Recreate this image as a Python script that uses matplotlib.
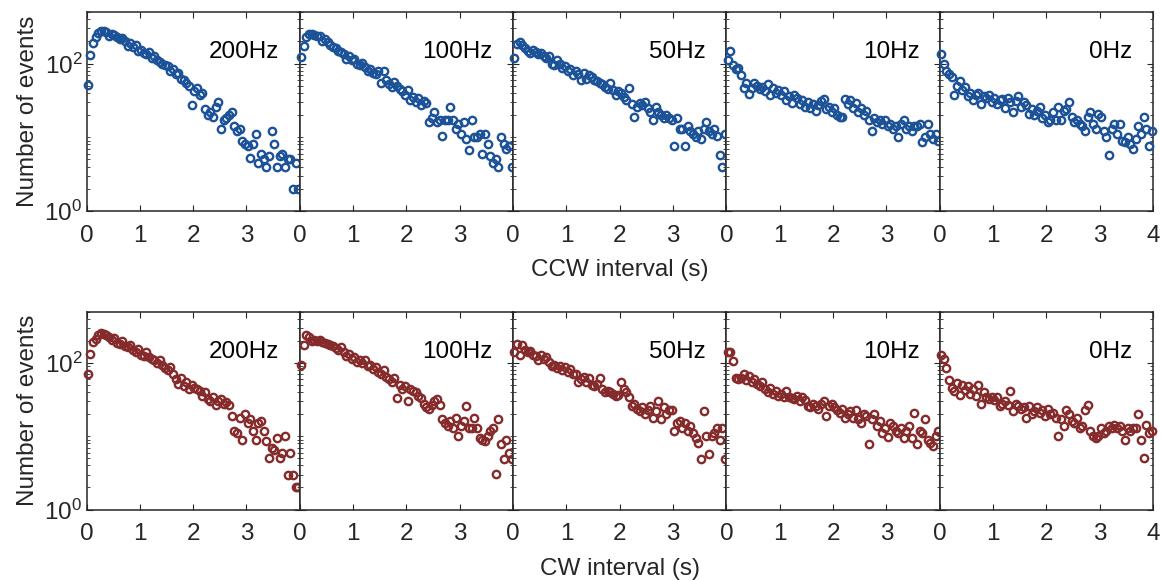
import numpy as np
import matplotlib
matplotlib.use("Agg")
import matplotlib.pyplot as plt
from matplotlib.ticker import FixedLocator, NullFormatter

plt.rcParams['font.family'] = ['Liberation Sans', 'DejaVu Sans']
plt.rcParams['mathtext.fontset'] = 'custom'
plt.rcParams['mathtext.rm'] = 'Liberation Sans'
plt.rcParams['mathtext.default'] = 'regular'

# ---------------- data ----------------
bin_width = 0.05
n_bins = 80
panel_labels = ["200Hz", "100Hz", "50Hz", "10Hz", "0Hz"]
x_tick_values = [0, 1, 2, 3, 4]
y_tick_labels = ["$10^0$", "$10^2$"]
row_xlabels = ["CCW interval (s)", "CW interval (s)"]
ylabel_text = "Number of events"

ccw_200 = [51, 130, 190, 230, 260, 275, 280, 270, 240, 250,
           245, 230, 215, 225, 200, 175, 190, 170, 180, 150,
           155, 140, 135, 145, 120, 125, 110, 105, 100, 95,
           92, 80, 85, 72, 75, 62, 60, 55, 50, 27,
           42, 46, 38, 40, 24, 20, 22, 19, 26, 30,
           13, 17, 18, 20, 22, 14, 12, 13, 9, 8,
           7.5, 5.2, 8, 11, 4.5, 6, 5, 4, 5.5, 12,
           8, 4, 5.5, 6, 4, 5, 5, 2, 4.5, 2]
ccw_100 = [123, 175, 230, 255, 250, 245, 240, 235, 200, 215,
           195, 180, 170, 160, 150, 145, 135, 115, 125, 110,
           115, 100, 95, 102, 90, 80, 85, 75, 72, 78,
           55, 78, 60, 52, 48, 56, 50, 45, 42, 38,
           44, 32, 35, 30, 34, 27, 31, 29, 16, 18,
           22, 16, 17, 10.5, 17, 17, 26, 17, 13, 15,
           11, 16, 9.5, 6.7, 17, 10, 10, 11, 6, 11,
           8, 5.5, 4.5, 5, 4, 10, 8, 7, 7.5, 3.9]
ccw_50 = [120, 185, 195, 180, 165, 150, 140, 155, 145, 135,
          140, 125, 118, 125, 100, 95, 110, 100, 88, 92,
          80, 85, 70, 78, 72, 60, 75, 62, 70, 66,
          60, 58, 55, 52, 48, 45, 55, 44, 38, 42,
          40, 35, 32, 46, 28, 19, 26, 29, 27, 30,
          25, 22, 17, 26, 22, 20, 18, 20, 18, 17,
          7.7, 18, 13, 13, 7.7, 14, 12, 11, 10, 12,
          9.5, 13, 16, 12, 11, 13, 10.5, 5.8, 3.9, 11]
ccw_10 = [110, 150, 95, 85, 88, 70, 46, 55, 39, 47,
          55, 50, 45, 48, 42, 52, 38, 46, 40, 44,
          38, 42, 32, 36, 29, 38, 34, 28, 32, 26,
          30, 25, 28, 23, 27, 31, 33, 24, 26, 22,
          25, 20, 19, 19, 33, 28, 32, 25, 29, 22,
          25, 20, 23, 17, 12, 18, 16, 17, 15, 17,
          14, 15, 13, 14, 10, 15, 17, 13, 14, 12,
          14, 14, 15, 8.6, 10, 15, 11, 9.5, 11, 9]
ccw_0 = [135, 100, 80, 72, 65, 38, 50, 58, 44, 48,
         36, 40, 32, 38, 40, 28, 36, 34, 38, 30,
         34, 28, 32, 33, 25, 34, 30, 22, 31, 36,
         26, 30, 27, 21, 24, 20, 23, 26, 18, 20,
         16, 17, 22, 17, 26, 17, 23, 24, 30, 19,
         16, 17, 15, 14, 12, 19, 22, 15, 13, 21,
         19, 12, 10, 5.8, 13, 15, 11, 15, 9, 8.5,
         10, 8, 7, 9.5, 14, 11, 19, 13, 7.7, 12]

cw_200 = [70, 135, 195, 215, 240, 255, 250, 245, 230, 210,
          220, 190, 180, 200, 170, 165, 175, 150, 140, 155,
          130, 125, 140, 120, 115, 110, 100, 110, 95, 85,
          80, 88, 72, 60, 52, 62, 48, 56, 44, 50,
          46, 45, 42, 36, 40, 32, 30, 34, 27, 30,
          32, 28, 29, 27, 19, 12, 11, 18, 9, 20,
          15, 17, 12, 9, 15, 16, 12, 8.5, 5, 7,
          6.5, 9.5, 5, 6, 10, 3, 6, 3, 2, 2]
cw_100 = [94, 175, 240, 230, 200, 205, 200, 210, 195, 190,
          180, 175, 170, 160, 150, 165, 140, 125, 135, 115,
          120, 105, 110, 100, 112, 90, 95, 82, 88, 75,
          70, 80, 65, 60, 55, 62, 33, 50, 44, 48,
          30, 45, 42, 40, 36, 33, 28, 25, 24, 27,
          30, 32, 27, 17, 15, 14, 16, 13, 18, 10,
          14, 16, 26, 13, 13, 18, 13, 9.5, 9, 8.5,
          10, 12, 13, 3.1, 17, 7.8, 4.9, 9, 6, 4.9]
cw_50 = [140, 185, 130, 175, 150, 140, 145, 130, 125, 110,
         130, 115, 120, 105, 90, 95, 85, 90, 80, 88,
         75, 84, 70, 72, 56, 60, 64, 55, 62, 50,
         48, 52, 62, 45, 40, 42, 40, 38, 36, 37,
         56, 44, 40, 34, 26, 28, 24, 22, 25, 20,
         23, 26, 18, 22, 30, 17, 25, 20, 23, 23,
         12, 15, 16, 13, 15, 12, 14, 11, 9.6, 8,
         4.9, 22, 10, 5.7, 10, 11, 13, 9, 13, 4.9]
cw_10 = [142, 140, 107, 62, 60, 62, 70, 58, 66, 56,
         60, 52, 48, 55, 44, 40, 46, 38, 42, 36,
         38, 34, 42, 35, 33, 32, 36, 30, 34, 31,
         26, 25, 28, 26, 24, 28, 30, 19, 26, 28,
         25, 23, 21, 24, 18, 20, 22, 18, 23, 17,
         15, 20, 19, 7.8, 17, 20, 14, 16, 11, 13,
         9.8, 15, 14, 12, 11, 13, 9.5, 12, 14, 9.5,
         21, 7.8, 12, 11, 17, 9, 8, 7.4, 10, 12]
cw_0 = [131, 115, 85, 59, 46, 41, 53, 37, 50, 43,
        48, 38, 45, 36, 50, 28, 40, 34, 32, 35,
        31, 34, 26, 28, 30, 27, 41, 22, 28, 26,
        24, 25, 18, 26, 20, 22, 25, 21, 23, 19,
        24, 20, 21, 18, 10, 17, 14, 23, 20, 16,
        15, 18, 13, 14, 23, 27, 12, 10, 9.6, 10,
        13, 11, 12, 14, 13, 14.5, 13, 14, 12, 9,
        13, 12, 13, 13, 20, 9, 5.1, 14.5, 11, 12]

rows = [[ccw_200, ccw_100, ccw_50, ccw_10, ccw_0],
        [cw_200, cw_100, cw_50, cw_10, cw_0]]
row_colors = ["#1c5297", "#862b2b"]

bin_centers = bin_width / 2 + bin_width * np.arange(n_bins)

# ---------------- layout ----------------
W, H = 1161, 580
fig = plt.figure(figsize=(W / 100, H / 100), dpi=100)

FS = 17.5
ax_left_px = 86.5
ax_w_px = 213.3
row_px = [(12, 211), (312, 509.5)]  # (top, bottom) in pixels
axcol = "#262626"

for r, (top, bot) in enumerate(row_px):
    for c in range(5):
        l = (ax_left_px + c * ax_w_px) / W
        b = 1 - bot / H
        ax = fig.add_axes([l, b, ax_w_px / W, (bot - top) / H])
        ax.set_yscale('log')
        ax.set_ylim(1, 500)
        ax.set_xlim(0, 4)
        ax.plot(bin_centers, rows[r][c], linestyle='none', marker='o',
                markersize=5.3, markerfacecolor='none',
                markeredgecolor=row_colors[r], markeredgewidth=1.7,
                clip_on=False, zorder=3)
        ax.yaxis.set_major_locator(FixedLocator([1, 100]))
        minors = [m * 10 ** e for e in range(0, 3) for m in range(2, 11)]
        minors = [v for v in minors if v not in (1, 100) and v <= 500]
        ax.yaxis.set_minor_locator(FixedLocator(minors))
        ax.yaxis.set_minor_formatter(NullFormatter())
        ax.set_xticks(x_tick_values)
        if c < 4:
            ax.set_xticklabels([str(v) for v in x_tick_values[:-1]] + [""])
        else:
            ax.set_xticklabels([str(v) for v in x_tick_values])
        if c == 0:
            ax.set_yticklabels(y_tick_labels)
            ax.set_ylabel(ylabel_text, fontsize=FS, color=axcol, labelpad=4)
        else:
            ax.set_yticklabels([])
        ax.tick_params(axis='both', which='both', direction='in',
                       top=True, right=True, colors=axcol, labelsize=FS)
        ax.tick_params(axis='x', which='major', length=4, pad=10, width=0.8)
        ax.tick_params(axis='y', which='major', length=4, pad=3, width=0.8)
        ax.tick_params(axis='y', which='minor', length=2.5, width=0.6)
        for sp in ax.spines.values():
            sp.set_color(axcol)
            sp.set_linewidth(1.1)
        ax.text(0.905, 0.80, panel_labels[c], transform=ax.transAxes,
                ha='right', va='center', fontsize=FS, color='black')
    xc = (ax_left_px + 2.5 * ax_w_px) / W
    fig.text(xc, 1 - (bot + 59) / H, row_xlabels[r], ha='center',
             va='center', fontsize=FS, color=axcol)

fig.savefig("out.png", dpi=100)
